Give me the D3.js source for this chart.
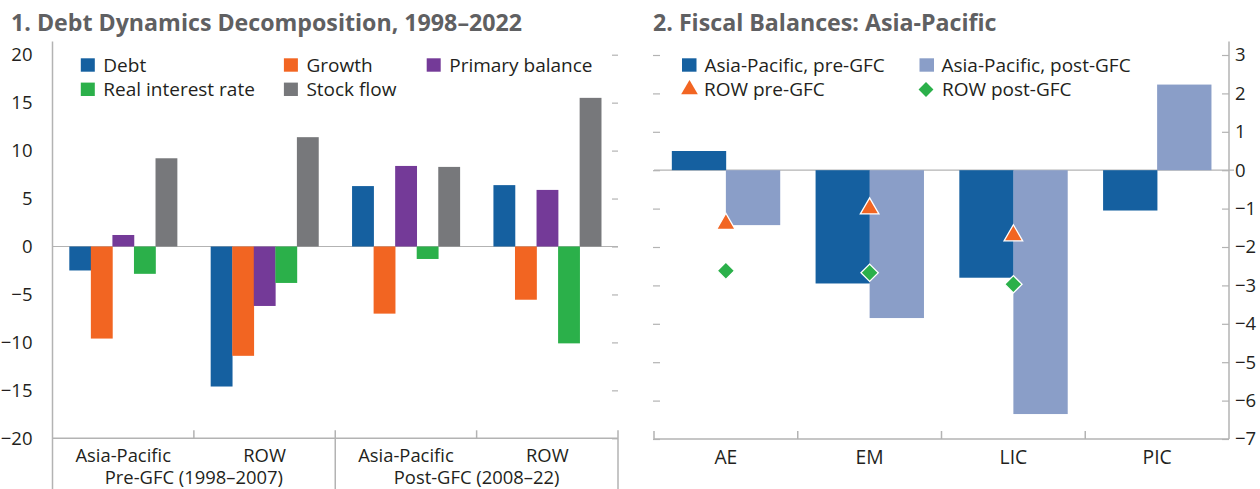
<!DOCTYPE html>
<html>
<head>
<meta charset="utf-8">
<script src="https://d3js.org/d3.v7.min.js"></script>
<style>
  body { margin: 0; background: #fff; }
  svg text { font-family: "Open Sans", Lato, sans-serif; fill: #231f20; }
  .title { font-weight: bold; fill: #5f6062; }
</style>
</head>
<body>
<div id="chart"></div>
<script>
// ---- panel 1 data ----
var debtCats = ["Asia-Pacific", "ROW", "Asia-Pacific", "ROW"];
var debtGroups = ["Pre-GFC (1998–2007)", "Post-GFC (2008–22)"];
var debtSeries = ["Debt", "Growth", "Primary balance", "Real interest rate", "Stock flow"];
var debtColors = ["#1560a0", "#f26522", "#743a98", "#2bb04a", "#77787b"];
var debtVals = [
  [-2.5, -14.6, 6.3, 6.4],    // Debt
  [-9.6, -11.4, -7.0, -5.55], // Growth
  [1.2, -6.2, 8.4, 5.9],      // Primary balance
  [-2.85, -3.8, -1.3, -10.1], // Real interest rate
  [9.2, 11.4, 8.3, 15.5]      // Stock flow
];
var debtTicks = [20, 15, 10, 5, 0, -5, -10, -15, -20];

// ---- panel 2 data ----
var fiscCats = ["AE", "EM", "LIC", "PIC"];
var fiscBarSeries = ["Asia-Pacific, pre-GFC", "Asia-Pacific, post-GFC"];
var fiscBarColors = ["#1560a0", "#8a9ec8"];
var apPre = [0.5, -2.95, -2.8, -1.05];
var apPost = [-1.43, -3.85, -6.35, 2.23];
var rowPre = [-1.4, -1.0, -1.7, null];
var rowPost = [-2.62, -2.67, -2.97, null];
var fiscTicks = [3, 2, 1, 0, -1, -2, -3, -4, -5, -6, -7];

var W = 1260, H = 489;
var svg = d3.select("#chart").append("svg").attr("width", W).attr("height", H);
var axisCol = "#b3b3b3";
var tickFont = 18.5, catFont = 18.4, legFont = 19, titleFont = 23.2;

function styleAxis(g) {
  g.selectAll("path.domain").remove();
  g.selectAll(".tick line").attr("stroke", axisCol).attr("stroke-width", 1.2);
  g.selectAll(".tick text").attr("font-size", tickFont).attr("fill", "#231f20");
}

// ================= Panel 1 =================
(function() {
  var left = 52.5, right = 618, top = 54.7, bottom = 438.3;
  var g = svg.append("g");

  g.append("text").attr("class", "title").attr("x", 11).attr("y", 31)
    .attr("font-size", titleFont).text("1. Debt Dynamics Decomposition, 1998–2022");

  var y = d3.scaleLinear().domain([-20, 20]).range([bottom, top]);
  var x0 = d3.scaleBand().domain(d3.range(debtCats.length)).range([left, right]).padding(0);
  var x1 = d3.scaleBand().domain(d3.range(debtSeries.length)).range([0, x0.bandwidth()])
    .paddingInner(0).paddingOuter(0.78);

  // right-side dashes
  g.append("g").attr("transform", "translate(" + right + ",0)")
    .call(d3.axisLeft(y).tickValues(debtTicks).tickSize(6).tickFormat(""))
    .call(styleAxis);
  // left labels
  g.append("g").attr("transform", "translate(" + left + ",0)")
    .call(d3.axisLeft(y).tickValues(debtTicks).tickSize(0).tickPadding(20))
    .call(styleAxis);

  // zero line
  g.append("line").attr("x1", left).attr("x2", right).attr("y1", y(0)).attr("y2", y(0))
    .attr("stroke", axisCol).attr("stroke-width", 1.2);

  // bars
  debtSeries.forEach(function(s, si) {
    g.append("g").selectAll("rect").data(debtVals[si]).enter().append("rect")
      .attr("x", function(d, i) { return x0(i) + x1(si); })
      .attr("width", x1.bandwidth() + 0.3)
      .attr("y", function(d) { return y(Math.max(0, d)); })
      .attr("height", function(d) { return Math.abs(y(d) - y(0)); })
      .attr("fill", debtColors[si]);
  });

  // axes lines
  g.append("line").attr("x1", left).attr("x2", left).attr("y1", 41.5).attr("y2", H)
    .attr("stroke", axisCol).attr("stroke-width", 1.5);
  g.append("line").attr("x1", left).attr("x2", right).attr("y1", bottom).attr("y2", bottom)
    .attr("stroke", axisCol).attr("stroke-width", 1.5);
  debtCats.forEach(function(c, i) {
    var xx = x0(i) + x0.bandwidth();
    var long = (i % 2 === 1);
    g.append("line").attr("x1", xx).attr("x2", xx).attr("y1", bottom - 8).attr("y2", long ? H : bottom)
      .attr("stroke", axisCol).attr("stroke-width", 1.5);
    g.append("text").attr("x", x0(i) + x0.bandwidth() / 2).attr("y", 461.5)
      .attr("text-anchor", "middle").attr("font-size", catFont).text(c);
  });
  debtGroups.forEach(function(gr, i) {
    g.append("text").attr("x", x0(i * 2) + x0.bandwidth()).attr("y", 484)
      .attr("text-anchor", "middle").attr("font-size", catFont).text(gr);
  });

  // legend
  var legPos = [[80.8, 65], [283.9, 65], [426.7, 65], [80.8, 89.3], [283.9, 89.3]];
  debtSeries.forEach(function(s, i) {
    var lg = g.append("g").attr("transform", "translate(" + legPos[i][0] + "," + legPos[i][1] + ")");
    lg.append("rect").attr("x", 0).attr("y", -6.7).attr("width", 14).attr("height", 13.4).attr("fill", debtColors[i]);
    lg.append("text").attr("x", 22.5).attr("y", 6.8).attr("font-size", legFont).text(s);
  });
})();

// ================= Panel 2 =================
(function() {
  var left = 654, right = 1229, top = 55, bottom = 439;
  var g = svg.append("g");

  g.append("text").attr("class", "title").attr("x", 653).attr("y", 31)
    .attr("font-size", titleFont).text("2. Fiscal Balances: Asia-Pacific");

  var y = d3.scaleLinear().domain([-7, 3]).range([bottom, top]);
  var x0 = d3.scaleBand().domain(fiscCats).range([left, right]).padding(0);
  var x1 = d3.scaleBand().domain([0, 1]).range([0, x0.bandwidth()]).paddingInner(0).paddingOuter(0.33);

  // left dashes
  g.append("g").attr("transform", "translate(" + (left - 1) + ",0)")
    .call(d3.axisRight(y).tickValues(fiscTicks).tickSize(7).tickFormat(""))
    .call(styleAxis);
  // right axis: inward ticks, labels outside
  g.append("g").attr("transform", "translate(" + right + ",0)")
    .call(d3.axisLeft(y).tickValues(fiscTicks).tickSize(7).tickFormat(""))
    .call(styleAxis);
  g.append("g").attr("transform", "translate(" + right + ",0)")
    .call(d3.axisRight(y).tickValues(fiscTicks).tickSize(0).tickPadding(6))
    .call(styleAxis);
  g.append("line").attr("x1", right).attr("x2", right).attr("y1", 41.5).attr("y2", bottom)
    .attr("stroke", axisCol).attr("stroke-width", 1.5);

  g.append("line").attr("x1", left).attr("x2", right + 5).attr("y1", y(0)).attr("y2", y(0))
    .attr("stroke", axisCol).attr("stroke-width", 1.2);

  [apPre, apPost].forEach(function(vals, si) {
    g.append("g").selectAll("rect").data(vals).enter().append("rect")
      .attr("x", function(d, i) { return x0(fiscCats[i]) + x1(si); })
      .attr("width", x1.bandwidth() + 0.3)
      .attr("y", function(d) { return y(Math.max(0, d)); })
      .attr("height", function(d) { return Math.abs(y(d) - y(0)); })
      .attr("fill", fiscBarColors[si]);
  });

  var tri = d3.symbol().type(d3.symbolTriangle).size(150);
  var dia = d3.symbol().type(d3.symbolSquare).size(150);
  var mid = function(i) { return x0(fiscCats[i]) + x0.bandwidth() / 2; };

  g.append("g").selectAll("path").data(rowPre.map(function(v, i) { return {v: v, i: i}; })
      .filter(function(d) { return d.v !== null; }))
    .enter().append("path")
    .attr("d", tri)
    .attr("transform", function(d) { return "translate(" + mid(d.i) + "," + y(d.v) + ")"; })
    .attr("fill", "#f26522").attr("stroke", "#fff").attr("stroke-width", 1.3);
  g.append("g").selectAll("path").data(rowPost.map(function(v, i) { return {v: v, i: i}; })
      .filter(function(d) { return d.v !== null; }))
    .enter().append("path")
    .attr("d", dia)
    .attr("transform", function(d) { return "translate(" + mid(d.i) + "," + y(d.v) + ") rotate(45)"; })
    .attr("fill", "#2bb04a").attr("stroke", "#fff").attr("stroke-width", 1.3);

  // bottom axis
  g.append("line").attr("x1", left).attr("x2", right).attr("y1", bottom).attr("y2", bottom)
    .attr("stroke", axisCol).attr("stroke-width", 1.5);
  fiscCats.forEach(function(c, i) {
    var xx = x0(c);
    g.append("line").attr("x1", xx).attr("x2", xx).attr("y1", bottom - 8).attr("y2", bottom)
      .attr("stroke", axisCol).attr("stroke-width", 1.5);
    g.append("text").attr("x", x0(c) + x0.bandwidth() / 2).attr("y", 464)
      .attr("text-anchor", "middle").attr("font-size", 19.3).text(c);
  });

  // legend
  var l1 = g.append("g").attr("transform", "translate(682,65)");
  l1.append("rect").attr("y", -6.7).attr("width", 14.5).attr("height", 13.4).attr("fill", fiscBarColors[0]);
  l1.append("text").attr("x", 22.5).attr("y", 6.8).attr("font-size", legFont).text(fiscBarSeries[0]);
  var l2 = g.append("g").attr("transform", "translate(919.5,65)");
  l2.append("rect").attr("y", -6.7).attr("width", 14.5).attr("height", 13.4).attr("fill", fiscBarColors[1]);
  l2.append("text").attr("x", 22).attr("y", 6.8).attr("font-size", legFont).text(fiscBarSeries[1]);
  var l3 = g.append("g").attr("transform", "translate(689.5,89.5)");
  l3.append("path").attr("d", d3.symbol().type(d3.symbolTriangle).size(120)).attr("fill", "#f26522");
  l3.append("text").attr("x", 14.5).attr("y", 6.8).attr("font-size", legFont).text("ROW pre-GFC");
  var l4 = g.append("g").attr("transform", "translate(926,89.5)");
  l4.append("path").attr("d", d3.symbol().type(d3.symbolSquare).size(110)).attr("transform", "rotate(45)").attr("fill", "#2bb04a");
  l4.append("text").attr("x", 16).attr("y", 6.8).attr("font-size", legFont).text("ROW post-GFC");
})();
</script>
</body>
</html>
